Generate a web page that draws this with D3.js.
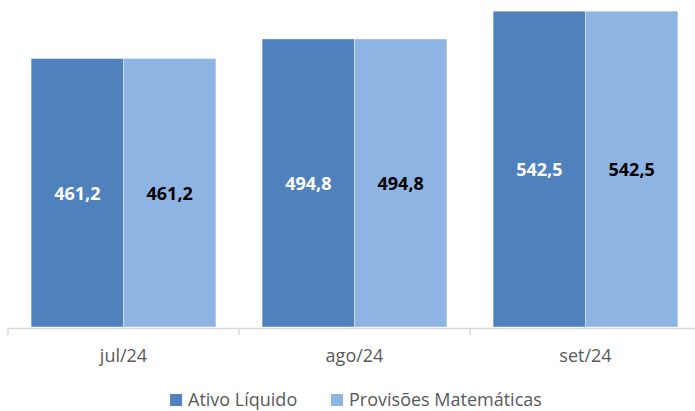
<!DOCTYPE html>
<html>
<head>
<meta charset="utf-8">
<script src="https://cdn.jsdelivr.net/npm/d3@7"></script>
<style>
  body { margin: 0; background: #fff; }
  text { font-family: "Open Sans", sans-serif; }
</style>
</head>
<body>
<div id="chart"></div>
<script>
let months = ["jul/24", "ago/24", "set/24"];
let series_names = ["Ativo Líquido", "Provisões Matemáticas"];
let ativo = [461.2, 494.8, 542.5];
let provisoes = [461.2, 494.8, 542.5];
let colors = ["#4F81BD", "#8EB4E3"];
let label_colors = ["#ffffff", "#000000"];

let width = 695, height = 411;
let svg = d3.select("#chart").append("svg")
  .attr("width", width)
  .attr("height", height);

let x = d3.scaleBand().domain(months).range([8, 701])
  .paddingInner(0.2).paddingOuter(0.1);
let x1 = d3.scaleBand().domain(series_names).range([0, x.bandwidth()]);
let y = d3.scaleLinear().domain([0, 560]).range([327, 1]);

let rows = months.map((m, i) => ({month: m, values: [ativo[i], provisoes[i]]}));

let groups = svg.append("g")
  .selectAll("g")
  .data(rows)
  .join("g")
  .attr("transform", d => `translate(${x(d.month)},0)`);

groups.selectAll("rect")
  .data(d => d.values.map((v, i) => ({name: series_names[i], value: v, i: i})))
  .join("rect")
  .attr("x", d => x1(d.name))
  .attr("y", d => y(d.value))
  .attr("width", x1.bandwidth())
  .attr("height", d => y(0) - y(d.value))
  .attr("fill", d => colors[d.i])
  .attr("stroke", "#ffffff")
  .attr("stroke-opacity", 0.5)
  .attr("stroke-width", 0.8);

groups.selectAll("text")
  .data(d => d.values.map((v, i) => ({name: series_names[i], value: v, i: i})))
  .join("text")
  .attr("x", d => x1(d.name) + x1.bandwidth() / 2)
  .attr("y", d => (y(d.value) + y(0)) / 2 + 1)
  .attr("dy", "0.35em")
  .attr("text-anchor", "middle")
  .style("font-size", "18px")
  .style("font-weight", "bold")
  .attr("fill", d => label_colors[d.i])
  .text(d => d.value.toFixed(1).replace(".", ","));

// x axis
let axis = svg.append("g")
  .attr("transform", `translate(0,${y(0) + 1})`)
  .call(d3.axisBottom(x).tickSize(0).tickPadding(21));
axis.select(".domain").attr("stroke", "#d9d9d9").attr("stroke-width", 1.5);
axis.selectAll(".tick text")
  .style("font-size", "18px")
  .style("font-family", "'Open Sans', sans-serif")
  .attr("fill", "#595959");

let step = x.step();
let bounds = months.map(m => x(m) - step * 0.1).concat([x(months[months.length - 1]) + x.bandwidth() + step * 0.1]);
axis.selectAll(".sep")
  .data(bounds)
  .join("line")
  .attr("class", "sep")
  .attr("x1", d => d).attr("x2", d => d)
  .attr("y1", 0).attr("y2", 7)
  .attr("stroke", "#d9d9d9")
  .attr("stroke-width", 1.5);

// legend
let legend_x = [170, 331];
let legend = svg.append("g")
  .selectAll("g")
  .data(series_names)
  .join("g")
  .attr("transform", (d, i) => `translate(${legend_x[i]},394)`);

legend.append("rect")
  .attr("width", 12).attr("height", 12)
  .attr("fill", (d, i) => colors[i]);

legend.append("text")
  .attr("x", 18)
  .attr("y", 12)
  .style("font-size", "18px")
  .attr("fill", "#595959")
  .text(d => d);
</script>
</body>
</html>
